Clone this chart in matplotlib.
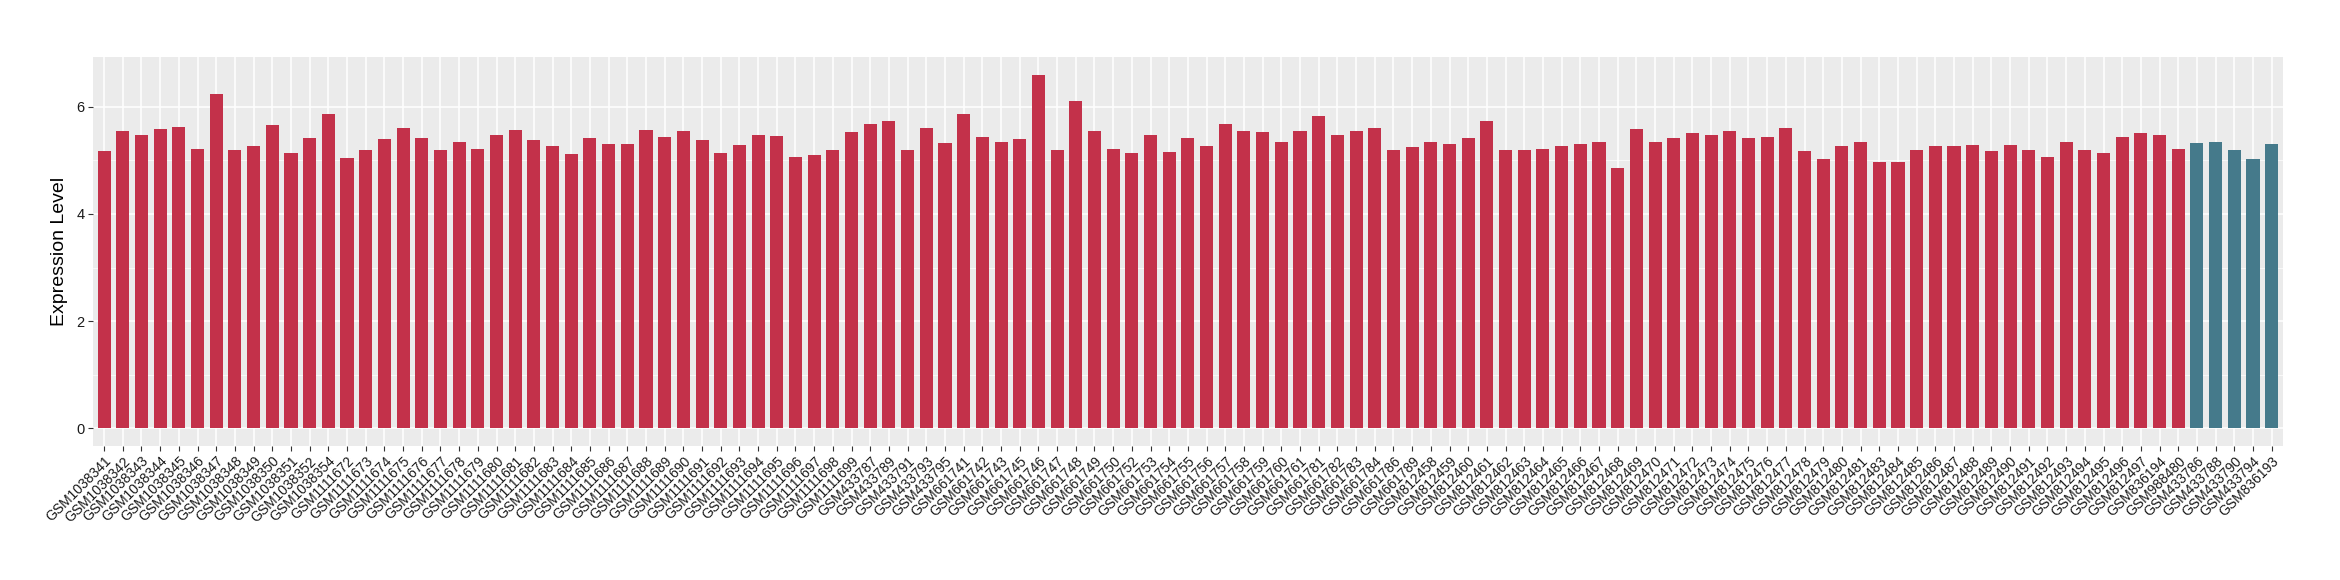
import matplotlib
matplotlib.use("Agg")
import matplotlib.pyplot as plt
from matplotlib.ticker import MultipleLocator

plt.rcParams["font.family"] = ["Liberation Sans", "DejaVu Sans"]

# first group of samples (red)
samples_a = [
    "GSM1038341", "GSM1038342", "GSM1038343", "GSM1038344", "GSM1038345", "GSM1038346",
    "GSM1038347", "GSM1038348", "GSM1038349", "GSM1038350", "GSM1038351", "GSM1038352",
    "GSM1038354",
    "GSM1111672", "GSM1111673", "GSM1111674", "GSM1111675", "GSM1111676", "GSM1111677",
    "GSM1111678", "GSM1111679", "GSM1111680", "GSM1111681", "GSM1111682", "GSM1111683",
    "GSM1111684", "GSM1111685", "GSM1111686", "GSM1111687", "GSM1111688", "GSM1111689",
    "GSM1111690", "GSM1111691", "GSM1111692", "GSM1111693", "GSM1111694", "GSM1111695",
    "GSM1111696", "GSM1111697", "GSM1111698", "GSM1111699",
    "GSM433787", "GSM433789", "GSM433791", "GSM433793", "GSM433795",
    "GSM661741", "GSM661742", "GSM661743", "GSM661745", "GSM661746", "GSM661747",
    "GSM661748", "GSM661749", "GSM661750", "GSM661752", "GSM661753", "GSM661754",
    "GSM661755", "GSM661756", "GSM661757", "GSM661758", "GSM661759", "GSM661760",
    "GSM661761", "GSM661781", "GSM661782", "GSM661783", "GSM661784", "GSM661786",
    "GSM661789",
    "GSM812458", "GSM812459", "GSM812460", "GSM812461", "GSM812462", "GSM812463",
    "GSM812464", "GSM812465", "GSM812466", "GSM812467", "GSM812468", "GSM812469",
    "GSM812470", "GSM812471", "GSM812472", "GSM812473", "GSM812474", "GSM812475",
    "GSM812476", "GSM812477", "GSM812478", "GSM812479", "GSM812480", "GSM812481",
    "GSM812483", "GSM812484", "GSM812485", "GSM812486", "GSM812487", "GSM812488",
    "GSM812489", "GSM812490", "GSM812491", "GSM812492", "GSM812493", "GSM812494",
    "GSM812495", "GSM812496", "GSM812497",
    "GSM836194", "GSM988480",
]
expr_a = [
    5.17, 5.54, 5.48, 5.58, 5.63, 5.22, 6.23, 5.20, 5.26, 5.65, 5.13, 5.41, 5.86,
    5.04, 5.19, 5.39, 5.60, 5.41, 5.20, 5.35, 5.22, 5.47, 5.56, 5.37, 5.26, 5.11,
    5.41, 5.30, 5.30, 5.56, 5.43, 5.54, 5.37, 5.13, 5.28, 5.47, 5.45, 5.06, 5.09,
    5.20, 5.52,
    5.67, 5.73, 5.20, 5.60, 5.32,
    5.86, 5.43, 5.35, 5.39, 6.60, 5.20, 6.10, 5.54, 5.22, 5.13, 5.47, 5.15, 5.41,
    5.26, 5.67, 5.54, 5.52, 5.34, 5.54, 5.82, 5.47, 5.54, 5.60, 5.19, 5.24,
    5.35, 5.30, 5.41, 5.73, 5.19, 5.19, 5.22, 5.26, 5.30, 5.34, 4.85, 5.58, 5.35,
    5.41, 5.50, 5.47, 5.54, 5.41, 5.43, 5.61, 5.17, 5.02, 5.26, 5.34, 4.96, 4.96,
    5.20, 5.26, 5.26, 5.28, 5.17, 5.28, 5.20, 5.07, 5.35, 5.19, 5.13, 5.43, 5.50,
    5.48, 5.22,
]

# second group of samples (teal)
samples_b = ["GSM433786", "GSM433788", "GSM433790", "GSM433794", "GSM836193"]
expr_b = [5.32, 5.35, 5.20, 5.02, 5.30]

color_a = "#C3314A"
color_b = "#457A8B"

labels = samples_a + samples_b
values = expr_a + expr_b
colors = [color_a] * len(samples_a) + [color_b] * len(samples_b)

fig = plt.figure(figsize=(23.4, 5.8), dpi=100)
ax = fig.add_axes([0.0397, 0.231, 0.9359, 0.671])
ax.set_facecolor("#EBEBEB")

x = list(range(len(labels)))
ax.bar(x, values, width=0.7, color=colors, zorder=3)

ax.set_xlim(-0.6, len(labels) - 0.4)
ax.set_ylim(-0.33, 6.93)
ax.set_xticks(x)
ax.set_xticklabels(labels, rotation=45, ha="right", va="top",
                   rotation_mode="anchor", fontsize=10, color="#1A1A1A")
ax.yaxis.set_major_locator(MultipleLocator(2))
ax.yaxis.set_minor_locator(MultipleLocator(1))
ax.tick_params(axis="y", labelsize=10.5, labelcolor="#1A1A1A", length=3.8,
               width=0.8, color="#333333", pad=2)
ax.tick_params(axis="y", which="minor", length=0)
ax.tick_params(axis="x", length=3.8, width=0.8, color="#333333", pad=2)

ax.grid(True, which="major", color="white", linewidth=1.1, zorder=0)
ax.grid(True, which="minor", axis="y", color="white", linewidth=0.5, zorder=0)
ax.set_axisbelow(True)
for s in ax.spines.values():
    s.set_visible(False)

ax.set_ylabel("Expression Level", fontsize=14, color="black", labelpad=6)

fig.savefig("out.png", dpi=100)
